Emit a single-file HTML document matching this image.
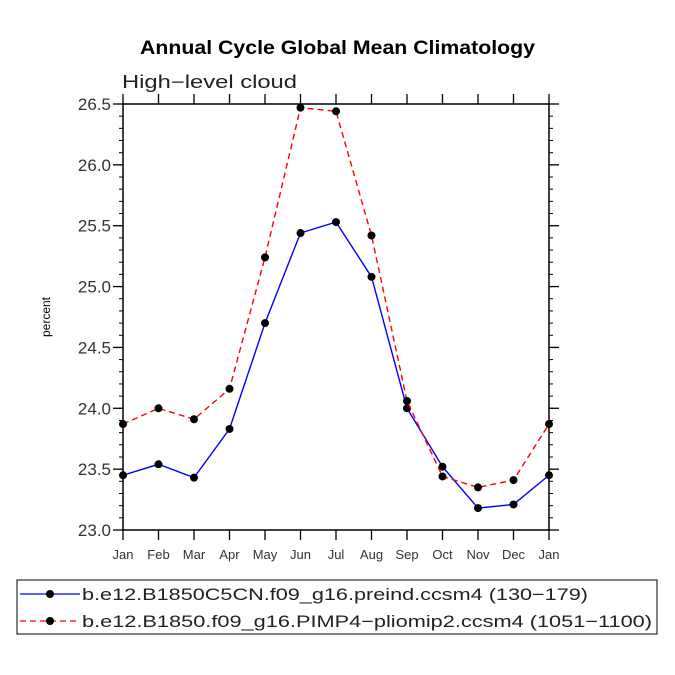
<!DOCTYPE html>
<html><head><meta charset="utf-8"><style>
body{margin:0;background:#fff;}
svg{display:block;font-family:"Liberation Sans",sans-serif;}
</style></head><body>
<svg id="c" width="675" height="675" viewBox="0 0 675 675">
<text x="140" y="54" textLength="395" lengthAdjust="spacingAndGlyphs" font-size="19" font-weight="bold">Annual Cycle Global Mean Climatology</text>
<text x="122" y="88" textLength="175" lengthAdjust="spacingAndGlyphs" font-size="18" fill="#222">High−level cloud</text>
<text x="50" y="317" font-size="12" text-anchor="middle" transform="rotate(-90 50 317)">percent</text>
<g id="axes"></g>
<g id="marks"></g>
<g>
<rect x="17" y="580" width="640" height="54" fill="none" stroke="#000" stroke-width="1"/>
<line x1="20" y1="594" x2="80" y2="594" stroke="#00f" stroke-width="1.3"/>
<circle cx="50" cy="594" r="4" fill="#000"/>
<text x="82" y="600" textLength="506" lengthAdjust="spacingAndGlyphs" font-size="17" fill="#222">b.e12.B1850C5CN.f09_g16.preind.ccsm4 (130−179)</text>
<line x1="20" y1="621" x2="80" y2="621" stroke="#f00" stroke-width="1.3" stroke-dasharray="6,4"/>
<circle cx="50" cy="621" r="4" fill="#000"/>
<text x="82" y="627" textLength="570" lengthAdjust="spacingAndGlyphs" font-size="17" fill="#222">b.e12.B1850.f09_g16.PIMP4−pliomip2.ccsm4 (1051−1100)</text>
</g>
</svg>
<script>
const months=["Jan","Feb","Mar","Apr","May","Jun","Jul","Aug","Sep","Oct","Nov","Dec","Jan"];
const preind=[23.45,23.54,23.43,23.83,24.70,25.44,25.53,25.08,24.00,23.52,23.18,23.21,23.45];
const plio=[23.87,24.00,23.91,24.16,25.24,26.47,26.44,25.42,24.06,23.44,23.35,23.41,23.87];
const yTicks=["23.0","23.5","24.0","24.5","25.0","25.5","26.0","26.5"];
const NS="http://www.w3.org/2000/svg";
const L=123,R=549,T=104,B=530,ymin=23,ymax=26.5;
const xs=i=>L+i*(R-L)/(months.length-1);
const ys=v=>B-(v-ymin)/(ymax-ymin)*(B-T);
function mk(tag,at,par){const e=document.createElementNS(NS,tag);for(const k in at)e.setAttribute(k,at[k]);par.appendChild(e);return e;}
const ax=document.getElementById('axes'),mg=document.getElementById('marks');
const fr=mk('rect',{x:L,y:T,width:R-L,height:B-T,fill:'none',stroke:'#000','stroke-width':1.5},ax);


yTicks.forEach(t=>{const y=ys(+t);
mk('line',{x1:L-10,x2:L,y1:y,y2:y,stroke:'#000','stroke-width':1.3},ax);
mk('line',{x1:R,x2:R+10,y1:y,y2:y,stroke:'#000','stroke-width':1.3},ax);
const tx=mk('text',{x:L-12,y:y+6,'text-anchor':'end','font-size':17,fill:'#333'},ax);tx.textContent=t;

});
for(let v=ymin;v<=ymax+1e-6;v+=0.1){const y=ys(v);
mk('line',{x1:L-4,x2:L,y1:y,y2:y,stroke:'#000'},ax);mk('line',{x1:R,x2:R+4,y1:y,y2:y,stroke:'#000'},ax);}
months.forEach((m,i)=>{const x=xs(i);
mk('line',{x1:x,x2:x,y1:B,y2:B+10,stroke:'#000','stroke-width':1.3},ax);
mk('line',{x1:x,x2:x,y1:T-10,y2:T,stroke:'#000','stroke-width':1.3},ax);
const tx=mk('text',{x:x,y:B+29,'text-anchor':'middle','font-size':13,fill:'#333'},ax);tx.textContent=m;

});
function series(d,col,dash,name){
const p=mk('polyline',{points:d.map((v,i)=>xs(i)+','+ys(v)).join(' '),fill:'none',stroke:col,'stroke-width':1.4,'stroke-dasharray':dash},mg);


d.forEach((v,i)=>{const c=mk('circle',{cx:xs(i),cy:ys(v),r:4,fill:'#000'},mg);

});}
series(preind,'#00f','none','preind');
series(plio,'#f00','6,4','pliomip2');
</script>
</body></html>
